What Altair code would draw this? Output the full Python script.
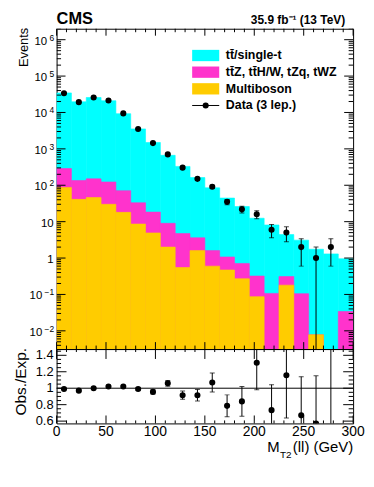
import altair as alt
import pandas as pd

# ---------------- data ----------------
bin_lo = [0, 15, 30, 45, 60, 75, 90, 105, 120, 135, 150, 165, 180, 195, 210, 225, 240, 255, 270, 285]
bin_hi = [15, 30, 45, 60, 75, 90, 105, 120, 135, 150, 165, 180, 195, 210, 225, 240, 255, 270, 285, 300]
ttbar = [34200, 19470, 25650, 20880, 9180, 3500, 1480, 656, 325, 159, 83.4, 43.4, 25.3, 12.1, 8.0, 4.1, 3.0, 1.74, 1.3, 0.92]
ttx = [201, 94, 104, 93, 53, 24.4, 13.4, 7.0, 4.15, 2.0, 1.0, 0.6, 0.44, 0.233, 0.107, 0.13, 0.105, 0.0, 0.0, 0.034]
multiboson = [87, 41, 46, 30, 18, 8.6, 4.9, 2.0, 0.55, 1.6, 0.6, 0.47, 0.27, 0.087, 0.0, 0.18, 0.0, 0.0078, 0.0, 0.0]

data_x = [7.5, 22.5, 37.5, 52.5, 67.5, 82.5, 97.5, 112.5, 127.5, 142.5, 157.5, 172.5, 187.5, 202.5, 217.5, 232.5, 247.5, 262.5, 277.5]
data_n = [33800, 19200, 25800, 21400, 9440, 3530, 1440, 705, 305, 150, 91, 35, 22, 16, 6, 5, 2, 1, 2]
data_err = [184, 139, 161, 146, 97, 59, 38, 27, 17, 12, 9.5, 5.9, 4.7, 4.0, 2.4, 2.2, 1.4, 1.0, 1.4]
ratio = [0.99, 0.97, 1.0, 1.02, 1.02, 0.99, 0.955, 1.06, 0.915, 0.915, 1.07, 0.786, 0.84, 1.31, 0.733, 1.158, 0.67, 0.57, 1.54]
ratio_err = [0.006, 0.007, 0.007, 0.007, 0.011, 0.017, 0.025, 0.035, 0.05, 0.07, 0.115, 0.133, 0.18, 0.33, 0.31, 0.52, 0.47, 0.58, 1.09]

legend_labels = ["t\u0074\u0304/single-t", "t\u0074\u0304Z, t\u0074\u0304H/W, tZq, tWZ", "Multiboson", "Data (3 lep.)"]
x_tick_labels = ["0", "50", "100", "150", "200", "250", "300"]
y_tick_vals = [1e-2, 1e-1, 1, 10, 1e2, 1e3, 1e4, 1e5, 1e6]
y_tick_base = ["10", "10", "1", "10", "10", "10", "10", "10", "10"]
y_tick_exp = ["\u22122", "\u22121", "", "", "2", "3", "4", "5", "6"]
r_tick_vals = [0.6, 0.8, 1.0, 1.2, 1.4]
r_tick_labels = ["0.6", "0.8", "1", "1.2", "1.4"]

C_TT = "#00ffff"
C_TTX = "#ff33cc"
C_MB = "#ffcc00"
FONT = "Liberation Sans"

W, H, HR = 299, 323, 75

# ---------------- frames ----------------
mc = pd.DataFrame({"lo": bin_lo, "hi": bin_hi, "tt": ttbar, "ttx": ttx, "mb": multiboson})
mc["c_mb"] = mc["mb"]
mc["c_ttx"] = mc["mb"] + mc["ttx"]
mc["c_tt"] = mc["c_ttx"] + mc["tt"]

dat = pd.DataFrame({"x": data_x, "n": data_n, "e": data_err, "r": ratio, "re": ratio_err})
dat["lo"] = (dat["n"] - dat["e"]).clip(lower=1e-4)
dat["hi"] = dat["n"] + dat["e"]
dat["rlo"] = dat["r"] - dat["re"]
dat["rhi"] = dat["r"] + dat["re"]

xs = alt.Scale(domain=[0, 300], nice=False, zero=False)
ys = alt.Scale(type="log", domain=[0.00316, 2e6], nice=False)
rs = alt.Scale(domain=[0.572, 1.476], nice=False, zero=False)

x_major = [0, 50, 100, 150, 200, 250, 300]
x_minor = [v for v in range(0, 301, 10) if v % 50 != 0]
y_minor = [m * 10.0 ** k for k in range(-3, 7) for m in range(2, 10) if 0.00316 <= m * 10.0 ** k <= 2e6]
r_minor = [round(0.6 + 0.05 * i, 2) for i in range(0, 18)]
r_minor = [v for v in r_minor if round(v * 10) % 2 != 0 or abs(v * 10 - round(v * 10)) > 1e-6]

one = pd.DataFrame({"a": [0]})


def hticks(vals, scale, x0, x1):
    return alt.Chart(pd.DataFrame({"v": vals})).mark_rule(color="black", strokeWidth=1, clip=True).encode(
        y=alt.Y("v:Q", scale=scale, axis=None), x=alt.value(x0), x2=alt.value(x1))


def vticks(vals, y0, y1):
    return alt.Chart(pd.DataFrame({"v": vals})).mark_rule(color="black", strokeWidth=1).encode(
        x=alt.X("v:Q", scale=xs, axis=None), y=alt.value(y0), y2=alt.value(y1))


def txt(s, x, y, size, align="left", baseline="alphabetic", bold=False, angle=0):
    kw = dict(text=s, align=align, baseline=baseline, fontSize=size, font=FONT, color="black",
              fontWeight="bold" if bold else "normal")
    if angle:
        kw["angle"] = angle
    return alt.Chart(one).mark_text(**kw).encode(x=alt.value(x), y=alt.value(y))


# ---------------- main panel ----------------
def bars(col, color):
    d = mc[mc[col] > 0]
    return alt.Chart(d).mark_rect(color=color, stroke=color, strokeWidth=0.6, clip=True).encode(
        x=alt.X("lo:Q", scale=xs, axis=None), x2="hi:Q",
        y=alt.Y(col + ":Q", scale=ys, axis=None), y2=alt.value(H))


layers = [bars("c_tt", C_TT), bars("c_ttx", C_TTX), bars("c_mb", C_MB)]

base_d = alt.Chart(dat)
layers.append(base_d.mark_rule(color="black", strokeWidth=1, clip=True).encode(
    x=alt.X("x:Q", scale=xs, axis=None), y=alt.Y("lo:Q", scale=ys, axis=None), y2="hi:Q"))
for c in ["lo", "hi"]:
    layers.append(base_d.mark_tick(orient="horizontal", size=5, thickness=1, color="black", clip=True).encode(
        x=alt.X("x:Q", scale=xs, axis=None), y=alt.Y(c + ":Q", scale=ys, axis=None)))
layers.append(base_d.mark_circle(size=38, color="black", opacity=1, clip=True).encode(
    x=alt.X("x:Q", scale=xs, axis=None), y=alt.Y("n:Q", scale=ys, axis=None)))

# ticks (inside, all four sides)
layers += [hticks(y_tick_vals, ys, 0, 9), hticks(y_minor, ys, 0, 4.5),
           hticks(y_tick_vals, ys, W - 9, W), hticks(y_minor, ys, W - 4.5, W),
           vticks(x_major, 0, 7), vticks(x_minor, 0, 3.5),
           vticks(x_major, H - 7, H), vticks(x_minor, H - 3.5, H)]

# y tick labels
ylab = pd.DataFrame({"v": y_tick_vals, "b": y_tick_base, "e": y_tick_exp})
pos = ylab[(ylab["e"] != "") & (~ylab["e"].str.startswith("\u2212"))]
neg = ylab[ylab["e"].str.startswith("\u2212")]
noe = ylab[ylab["e"] == ""]
for d, xoff in [(pos, -9.5), (neg, -14.5), (noe, -3)]:
    layers.append(alt.Chart(d).mark_text(align="right", baseline="middle", fontSize=11.5, font=FONT, dy=2,
                                         color="black").encode(
        y=alt.Y("v:Q", scale=ys, axis=None), x=alt.value(xoff), text="b:N"))
ex = pd.concat([pos, neg])
layers.append(alt.Chart(ex).mark_text(align="right", baseline="middle", fontSize=8.5, font=FONT, dy=-2,
                                      color="black").encode(
    y=alt.Y("v:Q", scale=ys, axis=None), x=alt.value(-2.5), text="e:N"))

# titles
layers.append(txt("Events", -29, -1, 13, align="right", angle=270))
layers.append(txt("CMS", 0, -5, 16.5, bold=True))
layers.append(txt("35.9 fb\u207b\u00b9 (13 TeV)", 291, -5, 12, align="right", bold=True))

# legend
lx0, lx1, ltx = 136.7, 164, 170.7
fills = [C_TT, C_TTX, C_MB]
for i in range(3):
    yc = 27 + 16.8 * i
    layers.append(alt.Chart(one).mark_rect(color=fills[i]).encode(
        x=alt.value(lx0), x2=alt.value(lx1), y=alt.value(yc - 5.7), y2=alt.value(yc + 5.7)))
    layers.append(txt(legend_labels[i], ltx, yc, 12.5, baseline="middle", bold=True))
yd = 27 + 16.8 * 3
layers.append(alt.Chart(one).mark_rule(color="black", strokeWidth=1).encode(
    x=alt.value(lx0), x2=alt.value(lx1), y=alt.value(yd)))
layers.append(alt.Chart(one).mark_circle(size=38, color="black", opacity=1).encode(
    x=alt.value((lx0 + lx1) / 2), y=alt.value(yd)))
layers.append(txt(legend_labels[3], ltx, yd, 12.5, baseline="middle", bold=True))

# pin the top-left corner of the layout
layers.append(alt.Chart(one).mark_rect(opacity=0).encode(
    x=alt.value(-48), x2=alt.value(-47), y=alt.value(-16), y2=alt.value(-15)))

main = alt.layer(*layers).properties(width=W, height=H)

# ---------------- ratio panel ----------------
rl = []
rl.append(alt.Chart(one).mark_rule(color="black", strokeWidth=1).encode(
    y=alt.Y("d:Q", scale=rs, axis=None), x=alt.value(0), x2=alt.value(W)).transform_calculate(d="1"))
rb = alt.Chart(dat)
rl.append(rb.mark_rule(color="black", strokeWidth=1, clip=True).encode(
    x=alt.X("x:Q", scale=xs, axis=None), y=alt.Y("rlo:Q", scale=rs, axis=None), y2="rhi:Q"))
for c in ["rlo", "rhi"]:
    rl.append(rb.mark_tick(orient="horizontal", size=5, thickness=1, color="black", clip=True).encode(
        x=alt.X("x:Q", scale=xs, axis=None), y=alt.Y(c + ":Q", scale=rs, axis=None)))
rl.append(rb.mark_circle(size=38, color="black", opacity=1, clip=True).encode(
    x=alt.X("x:Q", scale=xs, axis=None), y=alt.Y("r:Q", scale=rs, axis=None)))

rl += [hticks(r_tick_vals, rs, 0, 10), hticks(r_minor, rs, 0, 4.5),
       hticks(r_tick_vals, rs, W - 10, W), hticks(r_minor, rs, W - 4.5, W),
       vticks(x_major, 0, 10), vticks(x_minor, 0, 3),
       vticks(x_major, HR - 8, HR), vticks(x_minor, HR - 3, HR)]

rlab = pd.DataFrame({"v": r_tick_vals, "t": r_tick_labels})
rl.append(alt.Chart(rlab).mark_text(align="right", baseline="middle", fontSize=13, font=FONT, color="black").encode(
    y=alt.Y("v:Q", scale=rs, axis=None), x=alt.value(-3), text="t:N"))
xlab = pd.DataFrame({"v": x_major, "t": x_tick_labels})
rl.append(alt.Chart(xlab).mark_text(align="center", baseline="middle", fontSize=14, font=FONT, color="black").encode(
    x=alt.X("v:Q", scale=xs, axis=None), y=alt.value(HR + 8.5), text="t:N"))

rl.append(txt("(ll) (GeV)", W, 103.7, 15, align="right"))
rl.append(txt("T2", 237, 110, 10, align="right"))
rl.append(txt("M", 225, 103.7, 15, align="right"))
rl.append(txt("Obs./Exp.", -31, 33, 15.5, align="center", angle=270))

ratio_panel = alt.layer(*rl).properties(width=W, height=HR)

chart = alt.vconcat(main, ratio_panel, spacing=0, bounds="flush").properties(padding=0).configure_view(
    stroke="black", strokeWidth=1)

chart.save("out.html", embed_options={"renderer": "svg", "actions": False})
